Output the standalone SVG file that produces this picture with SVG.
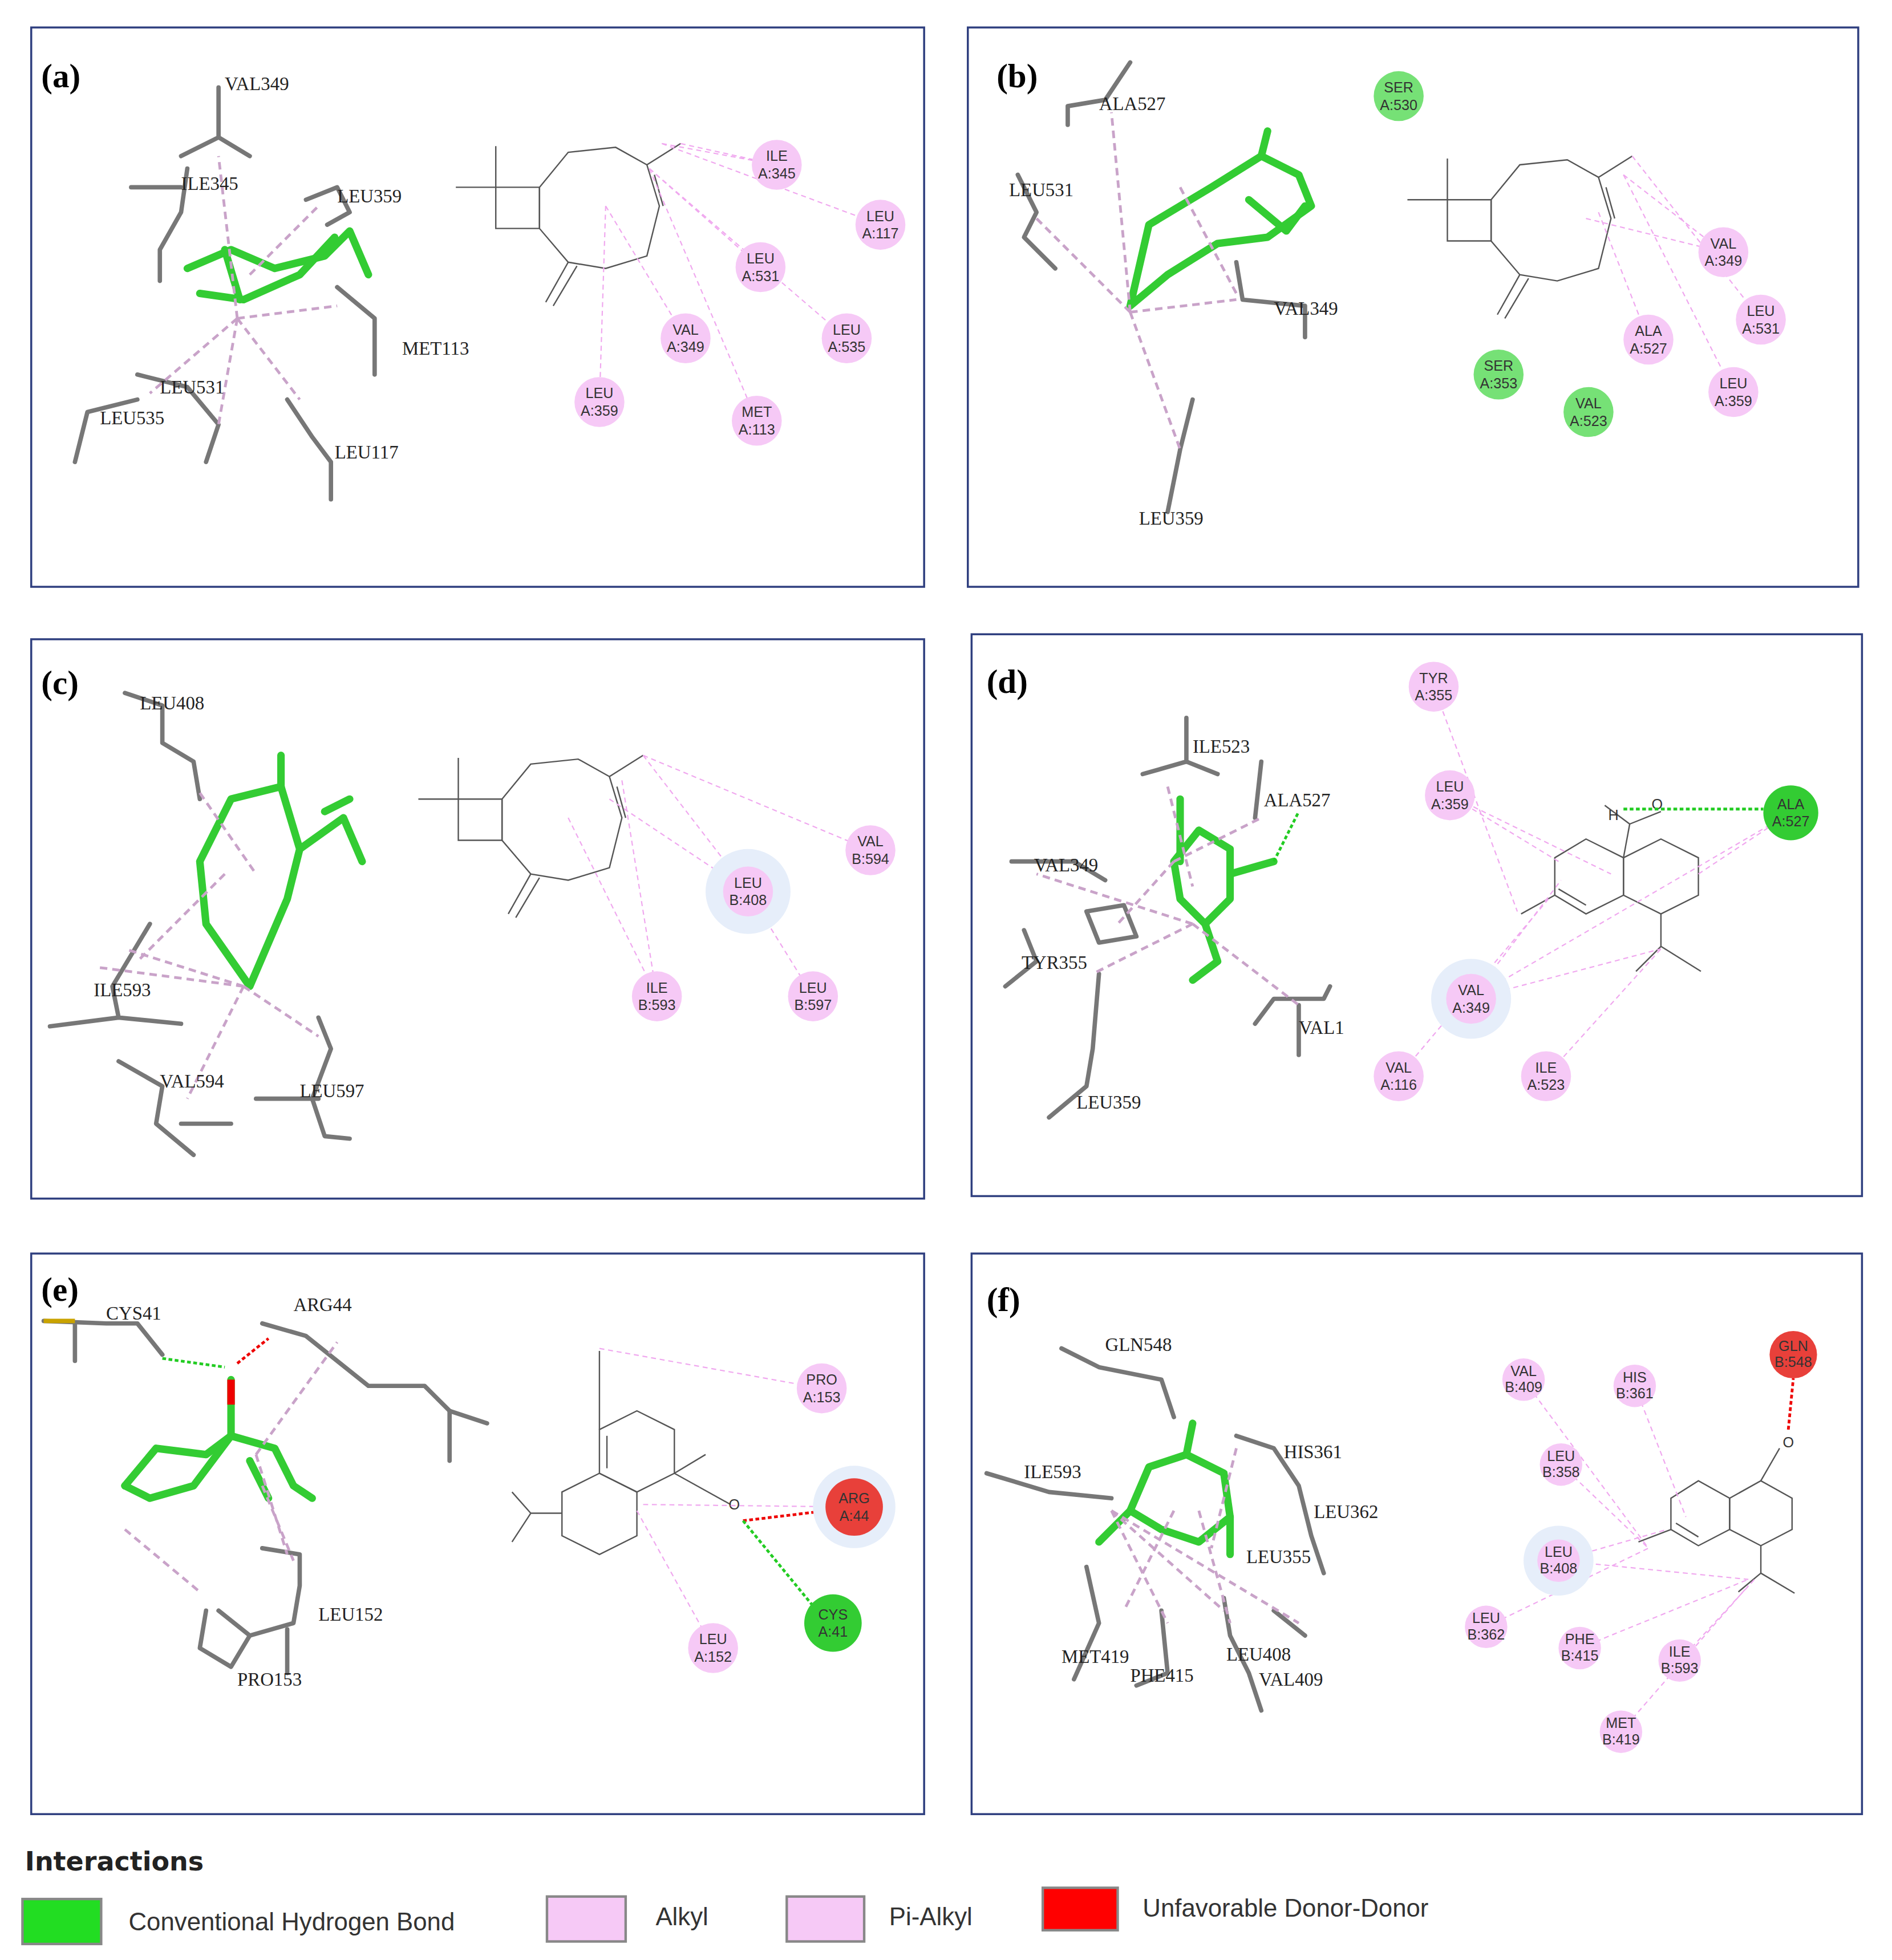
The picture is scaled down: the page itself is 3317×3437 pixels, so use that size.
<svg xmlns="http://www.w3.org/2000/svg" width="3317" height="3437" viewBox="0 0 3317 3437">
<defs>
<style>
.pn{fill:#fff;stroke:#2f3f7f;stroke-width:1.6}
.pl{font-family:"Liberation Serif",serif;font-weight:bold;font-size:27px;fill:#000}
.rl{font-family:"Liberation Serif",serif;font-size:15px;fill:#222}
.cl{font-family:"Liberation Sans",Arial,sans-serif;font-size:11.5px;fill:#333;text-anchor:middle}
.pk{fill:#f6c9f6}
.gr{fill:#76e176}
.gs{fill:#33cc33}
.rd{fill:#e8403a}
.halo{fill:#e6eefa}
.d{stroke:#f0a8ef;stroke-width:1;stroke-dasharray:4 3;fill:none}
.d3{stroke:#c9a3c9;stroke-width:2.2;stroke-dasharray:6 4;fill:none}
.hb{stroke:#22cc22;stroke-width:2.2;stroke-dasharray:3 2;fill:none}
.rb{stroke:#e00;stroke-width:2.2;stroke-dasharray:3 2;fill:none}
.mol{stroke:#555;stroke-width:1.1;fill:none}
.stk{stroke:#33cc33;stroke-width:6;fill:none;stroke-linejoin:round;stroke-linecap:round}
.gry{stroke:#777;stroke-width:3.5;fill:none;stroke-linejoin:round;stroke-linecap:round}
.lg{font-family:"Liberation Sans",Arial,sans-serif;font-size:20px;fill:#333}
</style>
<g id="cary">
<polyline class="mol" points="397,117 397,150 432,150 432,183 397,183 397,150 365,150"/>
<polygon class="mol" points="432,150 455,122 493,118 518,132 528,165 518,205 485,215 455,210 432,183"/>
<line class="mol" x1="455" y1="210" x2="437" y2="242"/><line class="mol" x1="462" y1="213" x2="443" y2="245"/>
<line class="mol" x1="518" y1="132" x2="545" y2="115"/><line class="mol" x1="524" y1="140" x2="531" y2="165"/>
</g>
</defs>
<rect width="3317" height="3437" fill="#fff"/>
<g transform="scale(2.1894)">
<rect class="pn" x="25" y="22" width="715" height="448"/>
<rect class="pn" x="775" y="22" width="713" height="448"/>
<rect class="pn" x="25" y="512" width="715" height="448"/>
<rect class="pn" x="778" y="508" width="713" height="450"/>
<rect class="pn" x="25" y="1004" width="715" height="449"/>
<rect class="pn" x="778" y="1004" width="713" height="449"/>
<text class="pl" x="33" y="70">(a)</text><text class="pl" x="798" y="70">(b)</text>
<text class="pl" x="33" y="556">(c)</text><text class="pl" x="790" y="555">(d)</text>
<text class="pl" x="33" y="1042">(e)</text><text class="pl" x="790" y="1050">(f)</text>

<g id="panel-a">
<g class="gry"><polyline points="175,70 175,110 145,125"/><polyline points="175,110 200,125"/><polyline points="150,135 145,170 128,200 128,225"/><polyline points="105,150 145,150"/><polyline points="245,160 270,150 280,170 262,180"/><polyline points="270,230 300,255 300,300"/><polyline points="110,300 150,310 175,340 165,370"/><polyline points="60,370 70,330 110,320"/><polyline points="230,320 250,350 265,370 265,400"/></g>
<g class="stk"><polyline points="150,215 185,200 220,215 260,205 280,185 295,220"/><polyline points="160,235 195,240 240,220 268,190"/><polyline points="180,200 192,240"/></g>
<g class="d3"><line x1="190" y1="255" x2="175" y2="125"/><line x1="190" y1="255" x2="270" y2="245"/><line x1="190" y1="255" x2="120" y2="315"/><line x1="190" y1="255" x2="240" y2="320"/><line x1="190" y1="255" x2="175" y2="340"/><line x1="200" y1="220" x2="255" y2="165"/></g>
<text class="rl" x="180" y="72">VAL349</text><text class="rl" x="145" y="152">ILE345</text><text class="rl" x="270" y="162">LEU359</text><text class="rl" x="322" y="284">MET113</text><text class="rl" x="128" y="315">LEU531</text><text class="rl" x="80" y="340">LEU535</text><text class="rl" x="268" y="367">LEU117</text>
<use href="#cary"/>
<g class="d"><line x1="530" y1="115" x2="622" y2="132"/><line x1="530" y1="115" x2="705" y2="180"/><line x1="520" y1="135" x2="609" y2="214"/><line x1="520" y1="135" x2="678" y2="271"/><line x1="485" y1="165" x2="549" y2="271"/><line x1="520" y1="135" x2="606" y2="337"/><line x1="485" y1="165" x2="480" y2="322"/><line x1="545" y1="115" x2="622" y2="132"/></g>
<circle class="pk" cx="622" cy="132" r="20"/><text class="cl" x="622" y="129">ILE</text><text class="cl" x="622" y="143">A:345</text>
<circle class="pk" cx="705" cy="180" r="20"/><text class="cl" x="705" y="177">LEU</text><text class="cl" x="705" y="191">A:117</text>
<circle class="pk" cx="609" cy="214" r="20"/><text class="cl" x="609" y="211">LEU</text><text class="cl" x="609" y="225">A:531</text>
<circle class="pk" cx="678" cy="271" r="20"/><text class="cl" x="678" y="268">LEU</text><text class="cl" x="678" y="282">A:535</text>
<circle class="pk" cx="549" cy="271" r="20"/><text class="cl" x="549" y="268">VAL</text><text class="cl" x="549" y="282">A:349</text>
<circle class="pk" cx="606" cy="337" r="20"/><text class="cl" x="606" y="334">MET</text><text class="cl" x="606" y="348">A:113</text>
<circle class="pk" cx="480" cy="322" r="20"/><text class="cl" x="480" y="319">LEU</text><text class="cl" x="480" y="333">A:359</text>
</g>

<g id="panel-b">
<g class="gry"><polyline points="905,50 885,80 855,85 855,100"/><polyline points="815,140 830,170 820,190 845,215"/><polyline points="990,210 995,240 1045,245 1045,270"/><polyline points="955,320 945,360 935,410"/></g>
<g class="stk"><polyline points="905,245 920,180 970,150 1010,125 1040,140 1050,165 1015,190 975,195 935,220 905,245"/><polyline points="1010,125 1015,105"/><polyline points="1000,160 1030,185 1045,165"/></g>
<g class="d3"><line x1="905" y1="250" x2="890" y2="90"/><line x1="905" y1="250" x2="830" y2="175"/><line x1="905" y1="250" x2="990" y2="240"/><line x1="905" y1="250" x2="945" y2="360"/><line x1="945" y1="150" x2="990" y2="235"/></g>
<text class="rl" x="880" y="88">ALA527</text><text class="rl" x="808" y="157">LEU531</text><text class="rl" x="1020" y="252">VAL349</text><text class="rl" x="912" y="420">LEU359</text>
<use href="#cary" transform="translate(762,10)"/>
<g class="d"><line x1="1300" y1="140" x2="1380" y2="202"/><line x1="1307" y1="125" x2="1410" y2="256"/><line x1="1280" y1="170" x2="1320" y2="272"/><line x1="1300" y1="140" x2="1388" y2="314"/><line x1="1270" y1="175" x2="1380" y2="202"/></g>
<circle class="gr" cx="1120" cy="77" r="20"/><text class="cl" x="1120" y="74">SER</text><text class="cl" x="1120" y="88">A:530</text>
<circle class="pk" cx="1380" cy="202" r="20"/><text class="cl" x="1380" y="199">VAL</text><text class="cl" x="1380" y="213">A:349</text>
<circle class="pk" cx="1410" cy="256" r="20"/><text class="cl" x="1410" y="253">LEU</text><text class="cl" x="1410" y="267">A:531</text>
<circle class="pk" cx="1320" cy="272" r="20"/><text class="cl" x="1320" y="269">ALA</text><text class="cl" x="1320" y="283">A:527</text>
<circle class="pk" cx="1388" cy="314" r="20"/><text class="cl" x="1388" y="311">LEU</text><text class="cl" x="1388" y="325">A:359</text>
<circle class="gr" cx="1200" cy="300" r="20"/><text class="cl" x="1200" y="297">SER</text><text class="cl" x="1200" y="311">A:353</text>
<circle class="gr" cx="1272" cy="330" r="20"/><text class="cl" x="1272" y="327">VAL</text><text class="cl" x="1272" y="341">A:523</text>
</g>

<g id="panel-c">
<g class="gry"><polyline points="100,555 130,565 130,595 155,610 160,640"/><polyline points="120,740 90,790 95,815 145,820"/><polyline points="40,822 95,815"/><polyline points="95,850 130,870 125,900 155,925"/><polyline points="145,900 185,900"/><polyline points="255,815 265,840 250,880 260,910 280,912"/><polyline points="205,880 255,880"/></g>
<g class="stk"><polyline points="160,690 185,640 225,630 240,680 230,720 200,790 165,740 160,690"/><polyline points="225,630 225,605"/><polyline points="240,680 275,655 290,690"/><polyline points="260,650 280,640"/></g>
<g class="d3"><line x1="195" y1="790" x2="100" y2="760"/><line x1="195" y1="790" x2="80" y2="775"/><line x1="195" y1="790" x2="255" y2="830"/><line x1="195" y1="790" x2="150" y2="880"/><line x1="180" y1="700" x2="110" y2="770"/><line x1="160" y1="635" x2="205" y2="700"/></g>
<text class="rl" x="112" y="568">LEU408</text><text class="rl" x="75" y="798">ILE593</text><text class="rl" x="128" y="871">VAL594</text><text class="rl" x="240" y="879">LEU597</text>
<use href="#cary" transform="translate(-30,490) scale(1.0)"/>
<g class="d"><line x1="515" y1="605" x2="697" y2="681"/><line x1="515" y1="605" x2="599" y2="714"/><line x1="455" y1="655" x2="526" y2="798"/><line x1="498" y1="625" x2="526" y2="798"/><line x1="599" y1="714" x2="651" y2="798"/><line x1="488" y1="640" x2="599" y2="714"/></g>
<circle class="halo" cx="599" cy="714" r="34"/>
<circle class="pk" cx="697" cy="681" r="20"/><text class="cl" x="697" y="678">VAL</text><text class="cl" x="697" y="692">B:594</text>
<circle class="pk" cx="599" cy="714" r="20"/><text class="cl" x="599" y="711">LEU</text><text class="cl" x="599" y="725">B:408</text>
<circle class="pk" cx="526" cy="798" r="20"/><text class="cl" x="526" y="795">ILE</text><text class="cl" x="526" y="809">B:593</text>
<circle class="pk" cx="651" cy="798" r="20"/><text class="cl" x="651" y="795">LEU</text><text class="cl" x="651" y="809">B:597</text>
</g>

<g id="panel-d">
<g class="gry"><polyline points="950,575 950,610 915,620"/><polyline points="950,610 975,620"/><polyline points="1010,610 1005,655"/><polyline points="810,690 860,690 885,705"/><polyline points="820,745 830,770 805,790"/><polyline points="870,730 900,725 910,750 880,755 870,730"/><polyline points="880,780 875,840 870,870 840,895"/><polyline points="1005,820 1020,800 1060,800 1065,790"/><polyline points="1040,805 1040,845"/></g>
<g class="stk"><polyline points="940,690 960,665 985,680 985,720 965,740 945,720 940,690"/><polyline points="985,700 1020,690"/><polyline points="965,740 975,770 955,785"/><polyline points="945,640 945,690"/></g>
<line class="hb" x1="1020" y1="690" x2="1040" y2="650"/>
<g class="d3"><line x1="955" y1="740" x2="875" y2="780"/><line x1="955" y1="740" x2="1040" y2="805"/><line x1="955" y1="740" x2="830" y2="700"/><line x1="940" y1="690" x2="1010" y2="655"/><line x1="940" y1="690" x2="895" y2="740"/><line x1="935" y1="630" x2="955" y2="710"/></g>
<text class="rl" x="955" y="603">ILE523</text><text class="rl" x="1012" y="646">ALA527</text><text class="rl" x="828" y="698">VAL349</text><text class="rl" x="818" y="776">TYR355</text><text class="rl" x="1040" y="828">VAL1</text><text class="rl" x="862" y="888">LEU359</text>
<g class="mol"><polygon points="1245,687 1270,672 1300,687 1300,717 1270,732 1245,717"/><polygon points="1300,687 1330,672 1360,687 1360,717 1330,732 1300,717"/><line x1="1248" y1="712" x2="1270" y2="725"/><line x1="1245" y1="717" x2="1218" y2="732"/><line x1="1300" y1="687" x2="1305" y2="660"/><line x1="1305" y1="660" x2="1285" y2="645"/><line x1="1305" y1="660" x2="1330" y2="650"/><line x1="1330" y1="732" x2="1330" y2="758"/><line x1="1330" y1="758" x2="1310" y2="778"/><line x1="1330" y1="758" x2="1362" y2="778"/></g>
<text class="cl" x="1292" y="657" font-size="10">H</text><text class="cl" x="1327" y="648" font-size="10">O</text>
<line class="hb" x1="1300" y1="648" x2="1412" y2="648"/>
<g class="d"><line x1="1148" y1="550" x2="1215" y2="730"/><line x1="1161" y1="637" x2="1248" y2="690"/><line x1="1161" y1="637" x2="1290" y2="700"/><line x1="1178" y1="800" x2="1250" y2="705"/><line x1="1178" y1="800" x2="1434" y2="651"/><line x1="1178" y1="800" x2="1330" y2="760"/><line x1="1120" y1="862" x2="1240" y2="720"/><line x1="1238" y1="862" x2="1330" y2="760"/><line x1="1360" y1="700" x2="1434" y2="651"/></g>
<circle class="halo" cx="1178" cy="800" r="32"/>
<circle class="pk" cx="1148" cy="550" r="20"/><text class="cl" x="1148" y="547">TYR</text><text class="cl" x="1148" y="561">A:355</text>
<circle class="pk" cx="1161" cy="637" r="20"/><text class="cl" x="1161" y="634">LEU</text><text class="cl" x="1161" y="648">A:359</text>
<circle class="gs" cx="1434" cy="651" r="22"/><text class="cl" x="1434" y="648">ALA</text><text class="cl" x="1434" y="662">A:527</text>
<circle class="pk" cx="1178" cy="800" r="20"/><text class="cl" x="1178" y="797">VAL</text><text class="cl" x="1178" y="811">A:349</text>
<circle class="pk" cx="1120" cy="862" r="20"/><text class="cl" x="1120" y="859">VAL</text><text class="cl" x="1120" y="873">A:116</text>
<circle class="pk" cx="1238" cy="862" r="20"/><text class="cl" x="1238" y="859">ILE</text><text class="cl" x="1238" y="873">A:523</text>
</g>

<g id="panel-e">
<g class="gry"><polyline points="35,1058 85,1060 110,1060 130,1085"/><polyline points="60,1060 60,1090"/><polyline points="210,1060 245,1070 270,1090 295,1110 340,1110 360,1130 390,1140"/><polyline points="360,1130 360,1170"/><polyline points="165,1290 160,1320 185,1335 200,1310 175,1290"/><polyline points="200,1310 235,1300 240,1270 240,1245 210,1240"/><polyline points="230,1305 230,1340"/></g>
<line x1="35" y1="1058" x2="60" y2="1058" stroke="#c9a300" stroke-width="3.5"/>
<g class="stk"><polyline points="100,1190 125,1160 165,1165 185,1150 220,1160 235,1190 250,1200"/><polyline points="100,1190 120,1200 155,1190 185,1150"/><polyline points="185,1150 185,1105"/><polyline points="200,1170 215,1200"/></g>
<line x1="185" y1="1105" x2="185" y2="1125" stroke="#e00" stroke-width="6"/>
<line class="hb" x1="130" y1="1088" x2="180" y2="1095"/><line class="rb" x1="190" y1="1092" x2="215" y2="1072"/>
<g class="d3"><line x1="100" y1="1225" x2="160" y2="1275"/><line x1="205" y1="1165" x2="270" y2="1075"/><line x1="205" y1="1165" x2="230" y2="1245"/><line x1="210" y1="1190" x2="235" y2="1250"/></g>
<text class="rl" x="85" y="1057">CYS41</text><text class="rl" x="235" y="1050">ARG44</text><text class="rl" x="255" y="1298">LEU152</text><text class="rl" x="190" y="1350">PRO153</text>
<g class="mol"><polygon points="480,1145 510,1130 540,1145 540,1180 510,1195 480,1180"/><polygon points="480,1180 510,1195 510,1230 480,1245 450,1230 450,1195"/><line x1="486" y1="1150" x2="486" y2="1176"/><line x1="480" y1="1145" x2="480" y2="1082"/><line x1="540" y1="1180" x2="565" y2="1165"/><line x1="540" y1="1180" x2="585" y2="1205"/><line x1="450" y1="1212" x2="425" y2="1212"/><line x1="425" y1="1212" x2="410" y2="1195"/><line x1="425" y1="1212" x2="410" y2="1235"/></g>
<text class="cl" x="588" y="1209" font-size="10">O</text>
<line class="rb" x1="595" y1="1218" x2="662" y2="1210"/><line class="hb" x1="595" y1="1218" x2="650" y2="1285"/>
<g class="d"><line x1="480" y1="1080" x2="658" y2="1112"/><line x1="510" y1="1210" x2="571" y2="1320"/><line x1="515" y1="1205" x2="684" y2="1207"/></g>
<circle class="halo" cx="684" cy="1207" r="33"/>
<circle class="pk" cx="658" cy="1112" r="20"/><text class="cl" x="658" y="1109">PRO</text><text class="cl" x="658" y="1123">A:153</text>
<circle class="rd" cx="684" cy="1207" r="23"/><text class="cl" x="684" y="1204">ARG</text><text class="cl" x="684" y="1218">A:44</text>
<circle class="gs" cx="667" cy="1300" r="23"/><text class="cl" x="667" y="1297">CYS</text><text class="cl" x="667" y="1311">A:41</text>
<circle class="pk" cx="571" cy="1320" r="20"/><text class="cl" x="571" y="1317">LEU</text><text class="cl" x="571" y="1331">A:152</text>
</g>

<g id="panel-f">
<g class="gry"><polyline points="850,1080 880,1095 930,1105 940,1135"/><polyline points="790,1180 840,1195 890,1200"/><polyline points="990,1150 1020,1160 1040,1190 1050,1230 1060,1260"/><polyline points="870,1255 880,1300 860,1345"/><polyline points="930,1290 935,1340 910,1350"/><polyline points="980,1280 985,1310 1000,1340 1010,1370"/><polyline points="1020,1290 1045,1310"/></g>
<g class="stk"><polyline points="905,1210 920,1175 950,1165 980,1180 985,1215 960,1235 930,1225 905,1210"/><polyline points="950,1165 955,1140"/><polyline points="905,1210 880,1235"/><polyline points="985,1215 985,1245"/></g>
<g class="d3"><line x1="890" y1="1210" x2="1040" y2="1300"/><line x1="890" y1="1210" x2="935" y2="1300"/><line x1="890" y1="1210" x2="980" y2="1290"/><line x1="960" y1="1210" x2="985" y2="1300"/><line x1="940" y1="1210" x2="900" y2="1290"/><line x1="990" y1="1160" x2="970" y2="1240"/></g>
<text class="rl" x="885" y="1082">GLN548</text><text class="rl" x="820" y="1184">ILE593</text><text class="rl" x="1028" y="1168">HIS361</text><text class="rl" x="1052" y="1216">LEU362</text><text class="rl" x="998" y="1252">LEU355</text><text class="rl" x="850" y="1332">MET419</text><text class="rl" x="905" y="1347">PHE415</text><text class="rl" x="982" y="1330">LEU408</text><text class="rl" x="1008" y="1350">VAL409</text>
<g class="mol"><polygon points="1338,1200 1360,1186 1385,1200 1385,1225 1360,1238 1338,1225"/><polygon points="1385,1200 1410,1186 1435,1200 1435,1225 1410,1238 1385,1225"/><line x1="1342" y1="1220" x2="1360" y2="1231"/><line x1="1338" y1="1225" x2="1312" y2="1235"/><line x1="1410" y1="1186" x2="1425" y2="1160"/><line x1="1410" y1="1238" x2="1410" y2="1260"/><line x1="1410" y1="1260" x2="1392" y2="1275"/><line x1="1410" y1="1260" x2="1437" y2="1276"/></g>
<text class="cl" x="1432" y="1159" font-size="9">O</text>
<line class="rb" x1="1432" y1="1145" x2="1436" y2="1104"/>
<g class="d"><line x1="1220" y1="1105" x2="1320" y2="1240"/><line x1="1309" y1="1110" x2="1350" y2="1215"/><line x1="1250" y1="1173" x2="1320" y2="1240"/><line x1="1248" y1="1250" x2="1335" y2="1225"/><line x1="1190" y1="1303" x2="1320" y2="1240"/><line x1="1265" y1="1320" x2="1400" y2="1265"/><line x1="1345" y1="1330" x2="1405" y2="1265"/><line x1="1298" y1="1387" x2="1400" y2="1270"/><line x1="1250" y1="1250" x2="1400" y2="1265"/></g>
<circle class="halo" cx="1248" cy="1250" r="28"/>
<g font-size="10">
<circle class="pk" cx="1220" cy="1105" r="17"/><text class="cl" x="1220" y="1102">VAL</text><text class="cl" x="1220" y="1115">B:409</text>
<circle class="pk" cx="1309" cy="1110" r="17"/><text class="cl" x="1309" y="1107">HIS</text><text class="cl" x="1309" y="1120">B:361</text>
<circle class="rd" cx="1436" cy="1085" r="19"/><text class="cl" x="1436" y="1082">GLN</text><text class="cl" x="1436" y="1095">B:548</text>
<circle class="pk" cx="1250" cy="1173" r="17"/><text class="cl" x="1250" y="1170">LEU</text><text class="cl" x="1250" y="1183">B:358</text>
<circle class="pk" cx="1248" cy="1250" r="17"/><text class="cl" x="1248" y="1247">LEU</text><text class="cl" x="1248" y="1260">B:408</text>
<circle class="pk" cx="1190" cy="1303" r="17"/><text class="cl" x="1190" y="1300">LEU</text><text class="cl" x="1190" y="1313">B:362</text>
<circle class="pk" cx="1265" cy="1320" r="17"/><text class="cl" x="1265" y="1317">PHE</text><text class="cl" x="1265" y="1330">B:415</text>
<circle class="pk" cx="1345" cy="1330" r="17"/><text class="cl" x="1345" y="1327">ILE</text><text class="cl" x="1345" y="1340">B:593</text>
<circle class="pk" cx="1298" cy="1387" r="17"/><text class="cl" x="1298" y="1384">MET</text><text class="cl" x="1298" y="1397">B:419</text>
</g>
</g>

<g id="legend">
<text x="20" y="1498" font-family="'DejaVu Sans',sans-serif" font-weight="bold" font-size="21" fill="#222">Interactions</text>
<rect x="18" y="1521" width="63" height="36" fill="#22dd22" stroke="#888" stroke-width="2"/>
<text class="lg" x="103" y="1546">Conventional Hydrogen Bond</text>
<rect x="438" y="1519" width="63" height="36" fill="#f6c9f6" stroke="#888" stroke-width="2"/>
<text class="lg" x="525" y="1542">Alkyl</text>
<rect x="630" y="1519" width="62" height="36" fill="#f6c9f6" stroke="#888" stroke-width="2"/>
<text class="lg" x="712" y="1542">Pi-Alkyl</text>
<rect x="835" y="1512" width="60" height="34" fill="#ff0000" stroke="#888" stroke-width="2"/>
<text class="lg" x="915" y="1535">Unfavorable Donor-Donor</text>
</g>
</g>
</svg>
